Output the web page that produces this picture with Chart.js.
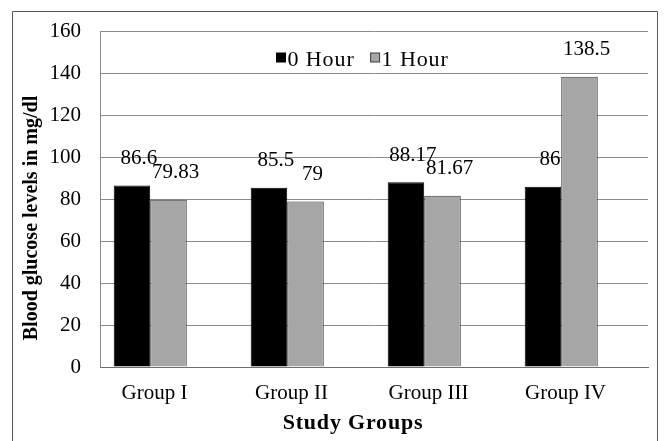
<!DOCTYPE html>
<html>
<head>
<meta charset="utf-8">
<script src="https://cdn.jsdelivr.net/npm/chart.js@4.4.1/dist/chart.umd.min.js"></script>
<style>
  html, body { margin: 0; padding: 0; background: #ffffff; }
  #wrap { width: 665px; height: 441px; position: relative; }
</style>
</head>
<body>
<div id="wrap"><canvas id="chart" width="665" height="441"></canvas></div>
<script>
// Blood glucose per study group, measured at 0 h and 1 h
const groups = ['Group I', 'Group II', 'Group III', 'Group IV'];
const hour0 = [86.6, 85.5, 88.17, 86];
const hour1 = [79.83, 79, 81.67, 138.5];
const seriesNames = ['0 Hour', '1 Hour'];
const yMin = 0, yMax = 160, yStep = 20;
const yTitle = 'Blood glucose levels in mg/dl';
const xTitle = 'Study Groups';

const SERIF = '"Liberation Serif", "Times New Roman", serif';
const fill0 = '#000000', fill1 = '#a6a6a6';
const edge0 = '#000000', edge1 = '#3a3a3a';

// white page with the thin frame around the figure
const framePlugin = {
  id: 'frame',
  beforeDraw(chart) {
    const ctx = chart.ctx;
    ctx.save();
    ctx.fillStyle = '#ffffff';
    ctx.fillRect(0, 0, chart.width, chart.height);
    ctx.strokeStyle = '#5a5a5a';
    ctx.lineWidth = 1;
    ctx.beginPath();
    ctx.moveTo(12.5, chart.height + 2);
    ctx.lineTo(12.5, 11.5);
    ctx.lineTo(657.5, 11.5);
    ctx.lineTo(657.5, chart.height + 2);
    ctx.stroke();
    ctx.restore();
  }
};

// value labels above each bar
const valueLabels = {
  id: 'valueLabels',
  afterDatasetsDraw(chart) {
    const ctx = chart.ctx;
    ctx.save();
    ctx.font = '21px ' + SERIF;
    ctx.fillStyle = '#000';
    ctx.textAlign = 'center';
    ctx.textBaseline = 'middle';
    [0, 1].forEach(di => {
      const meta = chart.getDatasetMeta(di);
      const data = chart.data.datasets[di].data;
      meta.data.forEach((bar, i) => {
        ctx.fillText(String(data[i]), bar.x + 7, bar.y - 27);
      });
    });
    ctx.restore();
  }
};

// legend drawn inside the plot, and the two axis titles
const legendAndTitles = {
  id: 'legendAndTitles',
  afterDraw(chart) {
    const ctx = chart.ctx;
    const ca = chart.chartArea;
    ctx.save();
    // legend
    ctx.font = '22px ' + SERIF;
    ctx.letterSpacing = '0.9px';
    ctx.textBaseline = 'alphabetic';
    ctx.textAlign = 'left';
    let x = ca.left + 176.5;
    const fills = [fill0, fill1], edges = [edge0, edge1];
    seriesNames.forEach((name, i) => {
      ctx.fillStyle = fills[i];
      ctx.fillRect(x, 53, 9, 9);
      ctx.strokeStyle = edges[i];
      ctx.lineWidth = 1;
      ctx.strokeRect(x, 53, 9, 9);
      ctx.fillStyle = '#000';
      ctx.fillText(name, x + 11, 66);
      x += 11 + ctx.measureText(name).width + 16;
    });
    // x title
    ctx.font = 'bold 22px ' + SERIF;
    ctx.letterSpacing = '0.8px';
    ctx.textAlign = 'center';
    ctx.fillText(xTitle, 353, 428.5);
    // y title
    ctx.letterSpacing = '0px';
    ctx.font = 'bold 20px ' + SERIF;
    ctx.translate(37, 218);
    ctx.rotate(-Math.PI / 2);
    ctx.fillText(yTitle, 0, 0);
    ctx.restore();
  }
};

new Chart(document.getElementById('chart'), {
  type: 'bar',
  data: {
    labels: groups,
    datasets: [
      { label: seriesNames[0], data: hour0, backgroundColor: fill0, borderColor: edge0, borderWidth: 1 },
      { label: seriesNames[1], data: hour1, backgroundColor: fill1, borderColor: edge1, borderWidth: 1 },
      // empty third slot keeps each pair left of its category centre
      { label: '', data: groups.map(() => null), backgroundColor: 'rgba(0,0,0,0)' }
    ]
  },
  options: {
    responsive: false,
    animation: false,
    devicePixelRatio: 1,
    layout: { padding: { left: 0, right: 17, top: 28, bottom: 0 } },
    datasets: { bar: { categoryPercentage: 0.8, barPercentage: 1.0 } },
    plugins: { legend: { display: false }, tooltip: { enabled: false } },
    scales: {
      x: {
        grid: { drawOnChartArea: false, drawTicks: false },
        border: { display: true, color: '#6e6e6e', width: 1 },
        ticks: { font: { family: SERIF, size: 21 }, color: '#000', padding: 14, labelOffset: -14, maxRotation: 0 },
        afterFit(scale) { scale.height = 74; }
      },
      y: {
        min: yMin, max: yMax,
        grid: { color: '#8c8c8c', lineWidth: 1, drawTicks: false },
        border: { display: true, color: '#8c8c8c', width: 1 },
        ticks: { stepSize: yStep, font: { family: SERIF, size: 21 }, color: '#000', padding: 19 },
        afterFit(scale) { scale.width = 100; }
      }
    }
  },
  plugins: [framePlugin, valueLabels, legendAndTitles]
});
</script>
</body>
</html>
